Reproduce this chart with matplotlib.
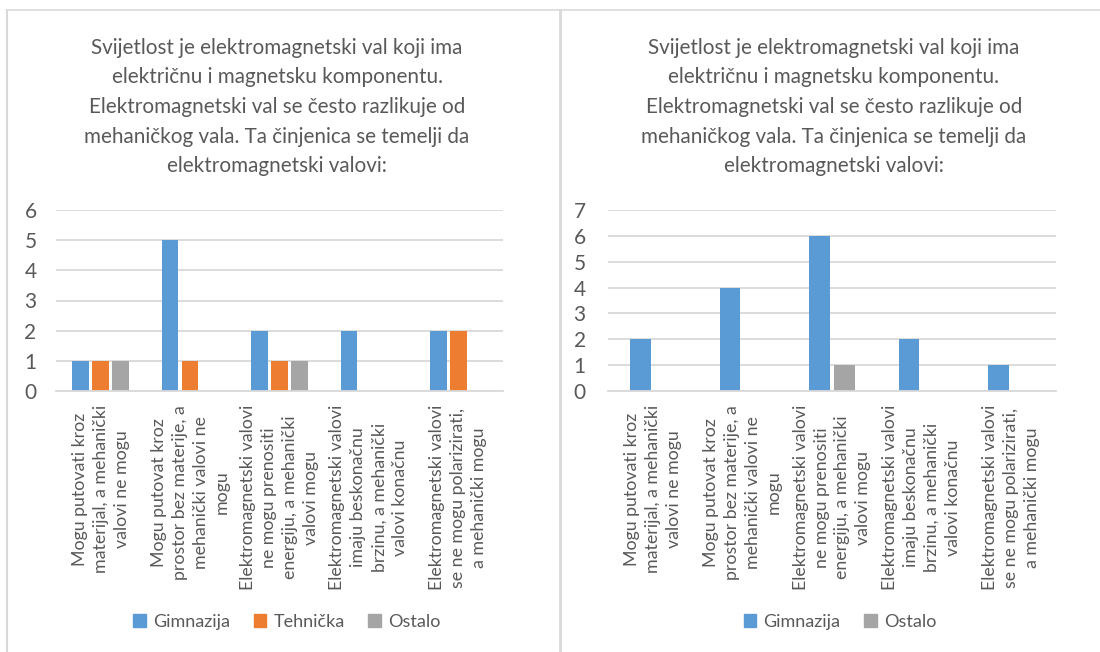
import numpy as np
import matplotlib.pyplot as plt
from matplotlib.patches import Patch
from matplotlib.lines import Line2D

plt.rcParams['font.family'] = ['Lato', 'DejaVu Sans']

# data
title = ('Svijetlost je elektromagnetski val koji ima\n'
         'električnu i magnetsku komponentu.\n'
         'Elektromagnetski val se često razlikuje od\n'
         'mehaničkog vala. Ta činjenica se temelji da\n'
         'elektromagnetski valovi:')
categories = [
    'Mogu putovati kroz\nmaterijal, a mehanički\nvalovi ne mogu',
    'Mogu putovat kroz\nprostor bez materije, a\nmehanički valovi ne\nmogu',
    'Elektromagnetski valovi\nne mogu prenositi\nenergiju, a mehanički\nvalovi mogu',
    'Elektromagnetski valovi\nimaju beskonačnu\nbrzinu, a mehanički\nvalovi konačnu',
    'Elektromagnetski valovi\nse ne mogu polarizirati,\na mehanički mogu',
]
left_gimnazija = [1, 5, 2, 2, 2]
left_tehnicka = [1, 1, 1, 0, 2]
left_ostalo = [1, 0, 1, 0, 0]
right_gimnazija = [2, 4, 6, 2, 1]
right_ostalo = [0, 0, 1, 0, 0]

BLUE = '#5b9bd5'
ORANGE = '#ed7d31'
GRAY = '#a5a5a5'
TXT = '#595959'
GRID = '#d9d9d9'

W, H = 1100, 652
fig = plt.figure(figsize=(W / 100, H / 100), dpi=100)


def px_rect(x0, x1, ytop, ybot):
    return [x0 / W, 1 - ybot / H, (x1 - x0) / W, (ybot - ytop) / H]


def style_axes(ax, ymax, ypad):
    x = np.arange(len(categories))
    ax.set_xlim(-0.5, len(categories) - 0.5)
    ax.set_ylim(0, ymax)
    ax.set_yticks(range(ymax + 1))
    ax.yaxis.grid(True, color=GRID, linewidth=1.3)
    ax.set_axisbelow(True)
    for s in ['top', 'right', 'left']:
        ax.spines[s].set_visible(False)
    ax.spines['bottom'].set_color(GRID)
    ax.spines['bottom'].set_linewidth(1.3)
    ax.tick_params(axis='y', length=0, pad=ypad, labelsize=15, labelcolor=TXT)
    ax.tick_params(axis='x', length=0, pad=10)
    ax.set_xticks(x)
    ax.set_xticklabels(categories, rotation=90, ha='center', va='top',
                       multialignment='center', fontsize=12.8, color=TXT,
                       linespacing=1.38)


# left chart
ax1 = fig.add_axes(px_rect(56, 503, 210, 391))
x = np.arange(len(categories))
ax1.bar(x - 0.224, left_gimnazija, 0.185, color=BLUE, label='Gimnazija')
ax1.bar(x, left_tehnicka, 0.185, color=ORANGE, label='Tehnička')
ax1.bar(x + 0.224, left_ostalo, 0.185, color=GRAY, label='Ostalo')
style_axes(ax1, 6, 14)

# right chart
ax2 = fig.add_axes(px_rect(608, 1056, 210, 391))
ax2.bar(x - 0.14, right_gimnazija, 0.229, color=BLUE, label='Gimnazija')
ax2.bar(x + 0.14, right_ostalo, 0.229, color=GRAY, label='Ostalo')
style_axes(ax2, 7, 16)

# titles
for cx in [277, 834]:
    fig.text(cx / W, 1 - 107 / H, title, ha='center', va='center',
             multialignment='center', fontsize=14.9, color=TXT, linespacing=1.6)

# legends
leg_kw = dict(loc='center', frameon=False, fontsize=13, handlelength=0.7,
              handleheight=0.7, handletextpad=0.4, columnspacing=1.3,
              labelcolor=TXT)
h1 = [Patch(color=BLUE), Patch(color=ORANGE), Patch(color=GRAY)]
fig.legend(h1, ['Gimnazija', 'Tehnička', 'Ostalo'], ncol=3,
           bbox_to_anchor=(287 / W, 1 - 622 / H), **leg_kw)
h2 = [Patch(color=BLUE), Patch(color=GRAY)]
fig.legend(h2, ['Gimnazija', 'Ostalo'], ncol=2,
           bbox_to_anchor=(840 / W, 1 - 622 / H), **leg_kw)

# panel borders
bc = '#d9d9d9'
fig.add_artist(Line2D([7 / W, 1], [1 - 10 / H, 1 - 10 / H], color=bc, lw=1.2))
fig.add_artist(Line2D([7 / W, 7 / W], [0, 1 - 10 / H], color=bc, lw=1.5))
fig.add_artist(Line2D([559.5 / W, 559.5 / W], [0, 1 - 10 / H], color=bc, lw=2))

fig.savefig('out.png', dpi=100)
